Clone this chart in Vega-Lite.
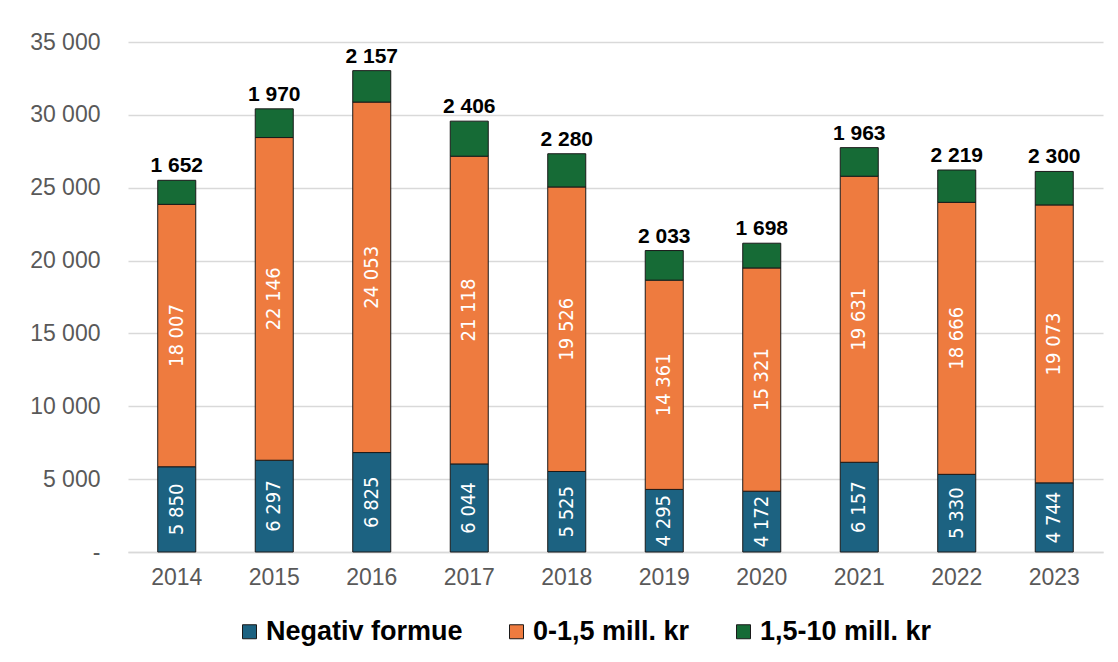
{
  "$schema": "https://vega.github.io/schema/vega-lite/v6.json",
  "width": 975,
  "height": 510,
  "autosize": {"type": "none"},
  "padding": {"left": 128, "top": 42, "right": 15, "bottom": 110},
  "config": {"view": {"stroke": null}, "font": "Liberation Sans"},
  "data": {
    "values": [
      {"year": "2014", "cat": "Negativ formue", "order": 1, "value": 5850},
      {"year": "2014", "cat": "0-1,5 mill. kr", "order": 2, "value": 18007},
      {"year": "2014", "cat": "1,5-10 mill. kr", "order": 3, "value": 1652},
      {"year": "2015", "cat": "Negativ formue", "order": 1, "value": 6297},
      {"year": "2015", "cat": "0-1,5 mill. kr", "order": 2, "value": 22146},
      {"year": "2015", "cat": "1,5-10 mill. kr", "order": 3, "value": 1970},
      {"year": "2016", "cat": "Negativ formue", "order": 1, "value": 6825},
      {"year": "2016", "cat": "0-1,5 mill. kr", "order": 2, "value": 24053},
      {"year": "2016", "cat": "1,5-10 mill. kr", "order": 3, "value": 2157},
      {"year": "2017", "cat": "Negativ formue", "order": 1, "value": 6044},
      {"year": "2017", "cat": "0-1,5 mill. kr", "order": 2, "value": 21118},
      {"year": "2017", "cat": "1,5-10 mill. kr", "order": 3, "value": 2406},
      {"year": "2018", "cat": "Negativ formue", "order": 1, "value": 5525},
      {"year": "2018", "cat": "0-1,5 mill. kr", "order": 2, "value": 19526},
      {"year": "2018", "cat": "1,5-10 mill. kr", "order": 3, "value": 2280},
      {"year": "2019", "cat": "Negativ formue", "order": 1, "value": 4295},
      {"year": "2019", "cat": "0-1,5 mill. kr", "order": 2, "value": 14361},
      {"year": "2019", "cat": "1,5-10 mill. kr", "order": 3, "value": 2033},
      {"year": "2020", "cat": "Negativ formue", "order": 1, "value": 4172},
      {"year": "2020", "cat": "0-1,5 mill. kr", "order": 2, "value": 15321},
      {"year": "2020", "cat": "1,5-10 mill. kr", "order": 3, "value": 1698},
      {"year": "2021", "cat": "Negativ formue", "order": 1, "value": 6157},
      {"year": "2021", "cat": "0-1,5 mill. kr", "order": 2, "value": 19631},
      {"year": "2021", "cat": "1,5-10 mill. kr", "order": 3, "value": 1963},
      {"year": "2022", "cat": "Negativ formue", "order": 1, "value": 5330},
      {"year": "2022", "cat": "0-1,5 mill. kr", "order": 2, "value": 18666},
      {"year": "2022", "cat": "1,5-10 mill. kr", "order": 3, "value": 2219},
      {"year": "2023", "cat": "Negativ formue", "order": 1, "value": 4744},
      {"year": "2023", "cat": "0-1,5 mill. kr", "order": 2, "value": 19073},
      {"year": "2023", "cat": "1,5-10 mill. kr", "order": 3, "value": 2300}
    ]
  },
  "transform": [
    {"stack": "value", "groupby": ["year"], "sort": [{"field": "order", "order": "ascending"}], "as": ["y0", "y1"]},
    {"calculate": "(datum.y0 + datum.y1) / 2", "as": "ymid"},
    {"calculate": "replace(format(datum.value, ',d'), ',', ' ')", "as": "label"}
  ],
  "encoding": {
    "x": {
      "field": "year",
      "type": "ordinal",
      "scale": {"paddingInner": 0.61, "paddingOuter": 0.305},
      "axis": {
        "title": null,
        "labelAngle": 0,
        "labelFontSize": 23,
        "labelColor": "#595959",
        "ticks": false,
        "domain": true,
        "domainColor": "#d9d9d9",
        "domainWidth": 1.5,
        "labelPadding": 14
      }
    }
  },
  "layer": [
    {
      "mark": {"type": "bar", "stroke": "#1a1a1a", "strokeWidth": 1},
      "encoding": {
        "y": {
          "field": "y1",
          "type": "quantitative",
          "scale": {"domain": [0, 35000]},
          "axis": {
            "title": null,
            "values": [0, 5000, 10000, 15000, 20000, 25000, 30000, 35000],
            "labelExpr": "datum.value == 0 ? '-\u00a0\u00a0' : replace(format(datum.value, ',d'), ',', ' ')",
            "labelFontSize": 23,
            "labelColor": "#595959",
            "labelPadding": 28,
            "ticks": false,
            "domain": false,
            "gridColor": "#d9d9d9",
            "gridWidth": 1.5
          }
        },
        "y2": {"field": "y0"},
        "color": {
          "field": "cat",
          "type": "nominal",
          "scale": {
            "domain": ["Negativ formue", "0-1,5 mill. kr", "1,5-10 mill. kr"],
            "range": ["#1C6281", "#EE7B3F", "#166B36"]
          },
          "legend": {
            "title": null,
            "orient": "none",
            "direction": "horizontal",
            "legendX": 108,
            "legendY": 576,
            "padding": 0,
            "symbolType": "square",
            "symbolSize": 196,
            "symbolStrokeColor": "#1a1a1a",
            "symbolStrokeWidth": 1,
            "labelFontSize": 27,
            "labelFontWeight": "bold",
            "labelColor": "#000000",
            "labelLimit": 400,
            "labelOffset": 3,
            "columnPadding": 40
          }
        }
      }
    },
    {
      "transform": [{"filter": "datum.order < 3"}],
      "mark": {
        "type": "text",
        "angle": 270,
        "align": "center",
        "baseline": "middle",
        "color": "#ffffff",
        "font": "Liberation Sans Narrow, DejaVu Sans Condensed, Liberation Sans, sans-serif",
        "fontSize": 20
      },
      "encoding": {
        "y": {"field": "ymid", "type": "quantitative"},
        "text": {"field": "label", "type": "nominal"}
      }
    },
    {
      "transform": [{"filter": "datum.order == 3"}],
      "mark": {
        "type": "text",
        "baseline": "bottom",
        "dy": -4,
        "fontWeight": "bold",
        "fontSize": 21,
        "color": "#000000"
      },
      "encoding": {
        "y": {"field": "y1", "type": "quantitative"},
        "text": {"field": "label", "type": "nominal"}
      }
    }
  ]
}
